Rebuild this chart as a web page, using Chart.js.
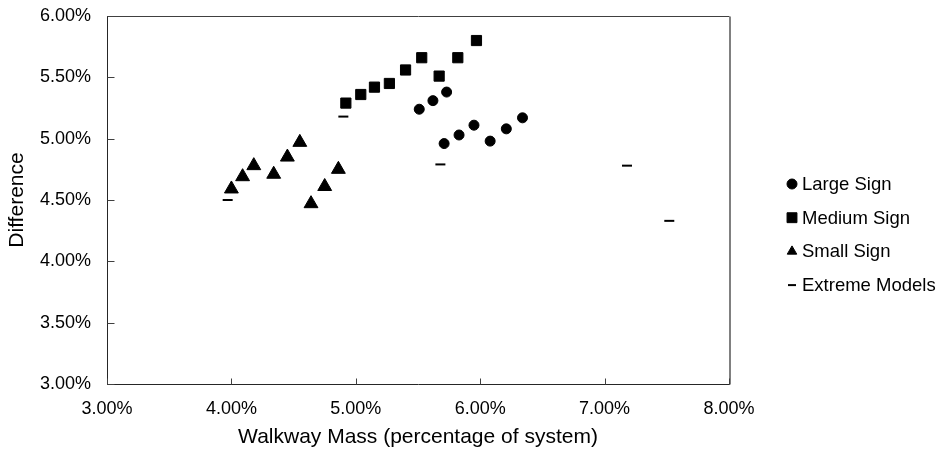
<!DOCTYPE html>
<html>
<head>
<meta charset="utf-8">
<script src="https://cdn.jsdelivr.net/npm/chart.js@4.4.0/dist/chart.umd.min.js"></script>
<style>
  html, body { margin: 0; padding: 0; background: #fff; }
  #wrap { width: 942px; height: 452px; }
</style>
</head>
<body>
<div id="wrap"><canvas id="chart"></canvas></div>
<script>
// values (percent)
const largeX  = [5.51, 5.62, 5.73, 5.71, 5.83, 5.95, 6.08, 6.21, 6.34];
const largeY  = [5.24, 5.31, 5.38, 4.96, 5.03, 5.11, 4.98, 5.08, 5.17];
const mediumX = [4.92, 5.04, 5.15, 5.27, 5.40, 5.53, 5.67, 5.82, 5.97];
const mediumY = [5.29, 5.36, 5.42, 5.45, 5.56, 5.66, 5.51, 5.66, 5.80];
const smallX  = [4.00, 4.09, 4.18, 4.34, 4.45, 4.55, 4.64, 4.75, 4.86];
const smallY  = [4.59, 4.69, 4.78, 4.71, 4.85, 4.97, 4.47, 4.61, 4.75];
const extremeX = [3.97, 4.90, 5.68, 7.18, 7.52];
const extremeY = [4.50, 5.18, 4.79, 4.78, 4.33];

const seriesNames = ['Large Sign', 'Medium Sign', 'Small Sign', 'Extreme Models'];
const xTitle = 'Walkway Mass (percentage of system)';
const yTitle = 'Difference';

const FONT = "'Liberation Sans', Arial, sans-serif";
const pts = (xs, ys) => xs.map((x, i) => ({ x, y: ys[i] }));
const pct = v => Number(v).toFixed(2) + '%';

// box top/right edges plus the inward tick marks
const frame = {
  id: 'frame',
  afterDraw(chart) {
    const { ctx, chartArea: a, scales } = chart;
    const L = Math.round(a.left) + 0.5, R = Math.round(a.right) + 0.5;
    const T = Math.round(a.top) + 0.5, B = Math.round(a.bottom) + 0.5;
    ctx.save();
    ctx.lineWidth = 1;
    ctx.strokeStyle = '#404040';
    ctx.beginPath();
    ctx.moveTo(L, T); ctx.lineTo(R, T);
    ctx.stroke();
    ctx.strokeStyle = '#808080';
    ctx.lineWidth = 2;
    ctx.beginPath();
    ctx.moveTo(R + 0.5, T); ctx.lineTo(R + 0.5, B);
    ctx.stroke();
    ctx.lineWidth = 1;
    ctx.strokeStyle = '#404040';
    ctx.beginPath();
    scales.y.ticks.forEach(t => {
      const y = Math.round(scales.y.getPixelForValue(t.value)) + 0.5;
      ctx.moveTo(L, y); ctx.lineTo(L + 7, y);
    });
    scales.x.ticks.forEach(t => {
      const x = Math.round(scales.x.getPixelForValue(t.value)) + 0.5;
      ctx.moveTo(x, B); ctx.lineTo(x, B - 6);
    });
    ctx.stroke();
    ctx.restore();
  }
};

// legend on the right, drawn by hand so it sits where the original has it
const sideLegend = {
  id: 'sideLegend',
  afterDraw(chart) {
    const { ctx } = chart;
    const sizes = [5, 7, 5.5, 4];
    ctx.save();
    ctx.font = '18.5px ' + FONT;
    ctx.textBaseline = 'middle';
    chart.data.datasets.forEach((ds, i) => {
      const y = 184 + i * 33.7;
      const isLine = ds.pointStyle === 'line';
      ctx.fillStyle = '#000';
      ctx.strokeStyle = '#000';
      ctx.lineWidth = isLine ? 2 : 1;
      Chart.helpers.drawPoint(ctx, {
        pointStyle: ds.pointStyle, radius: sizes[i], rotation: 0, borderWidth: isLine ? 2 : 1
      }, 792, y);
      ctx.fillStyle = '#000';
      ctx.fillText(ds.label, 802, y + 1);
    });
    ctx.restore();
  }
};

const mk = (label, data, style, r) => ({
  label, data,
  pointStyle: style,
  pointRadius: r,
  pointHoverRadius: r,
  backgroundColor: '#000',
  borderColor: '#000',
  borderWidth: style === 'line' ? 2 : 1,
  showLine: false
});

new Chart(document.getElementById('chart'), {
  type: 'scatter',
  data: {
    datasets: [
      mk(seriesNames[0], pts(largeX, largeY), 'circle', 5),
      mk(seriesNames[1], pts(mediumX, mediumY), 'rect', 7.2),
      mk(seriesNames[2], pts(smallX, smallY), 'triangle', 8),
      mk(seriesNames[3], pts(extremeX, extremeY), 'line', 5)
    ]
  },
  options: {
    responsive: true,
    maintainAspectRatio: false,
    animation: false,
    layout: { padding: { top: 16, right: 213, bottom: 0, left: 0 } },
    plugins: { legend: { display: false }, tooltip: { enabled: false } },
    scales: {
      x: {
        type: 'linear',
        min: 3, max: 8,
        afterFit: s => { s.height = 68; s.paddingLeft = 0; s.paddingRight = 0; },
        border: { color: '#262626', width: 1 },
        grid: { drawOnChartArea: false, drawTicks: false },
        ticks: { stepSize: 1, padding: 14, maxRotation: 0, color: '#000', font: { family: FONT, size: 18 }, callback: pct },
        title: { display: true, text: xTitle, color: '#000', font: { family: FONT, size: 21 }, padding: { top: 0, bottom: 2 } }
      },
      y: {
        type: 'linear',
        min: 3, max: 6,
        afterFit: s => { s.width = 107; s.paddingTop = 0; s.paddingBottom = 0; },
        border: { color: '#262626', width: 1 },
        grid: { drawOnChartArea: false, drawTicks: false },
        ticks: { stepSize: 0.5, padding: 16, color: '#000', font: { family: FONT, size: 18 }, callback: pct },
        title: { display: true, text: yTitle, color: '#000', font: { family: FONT, size: 21 }, padding: { top: 5, bottom: 0 } }
      }
    }
  },
  plugins: [frame, sideLegend]
});
</script>
</body>
</html>
